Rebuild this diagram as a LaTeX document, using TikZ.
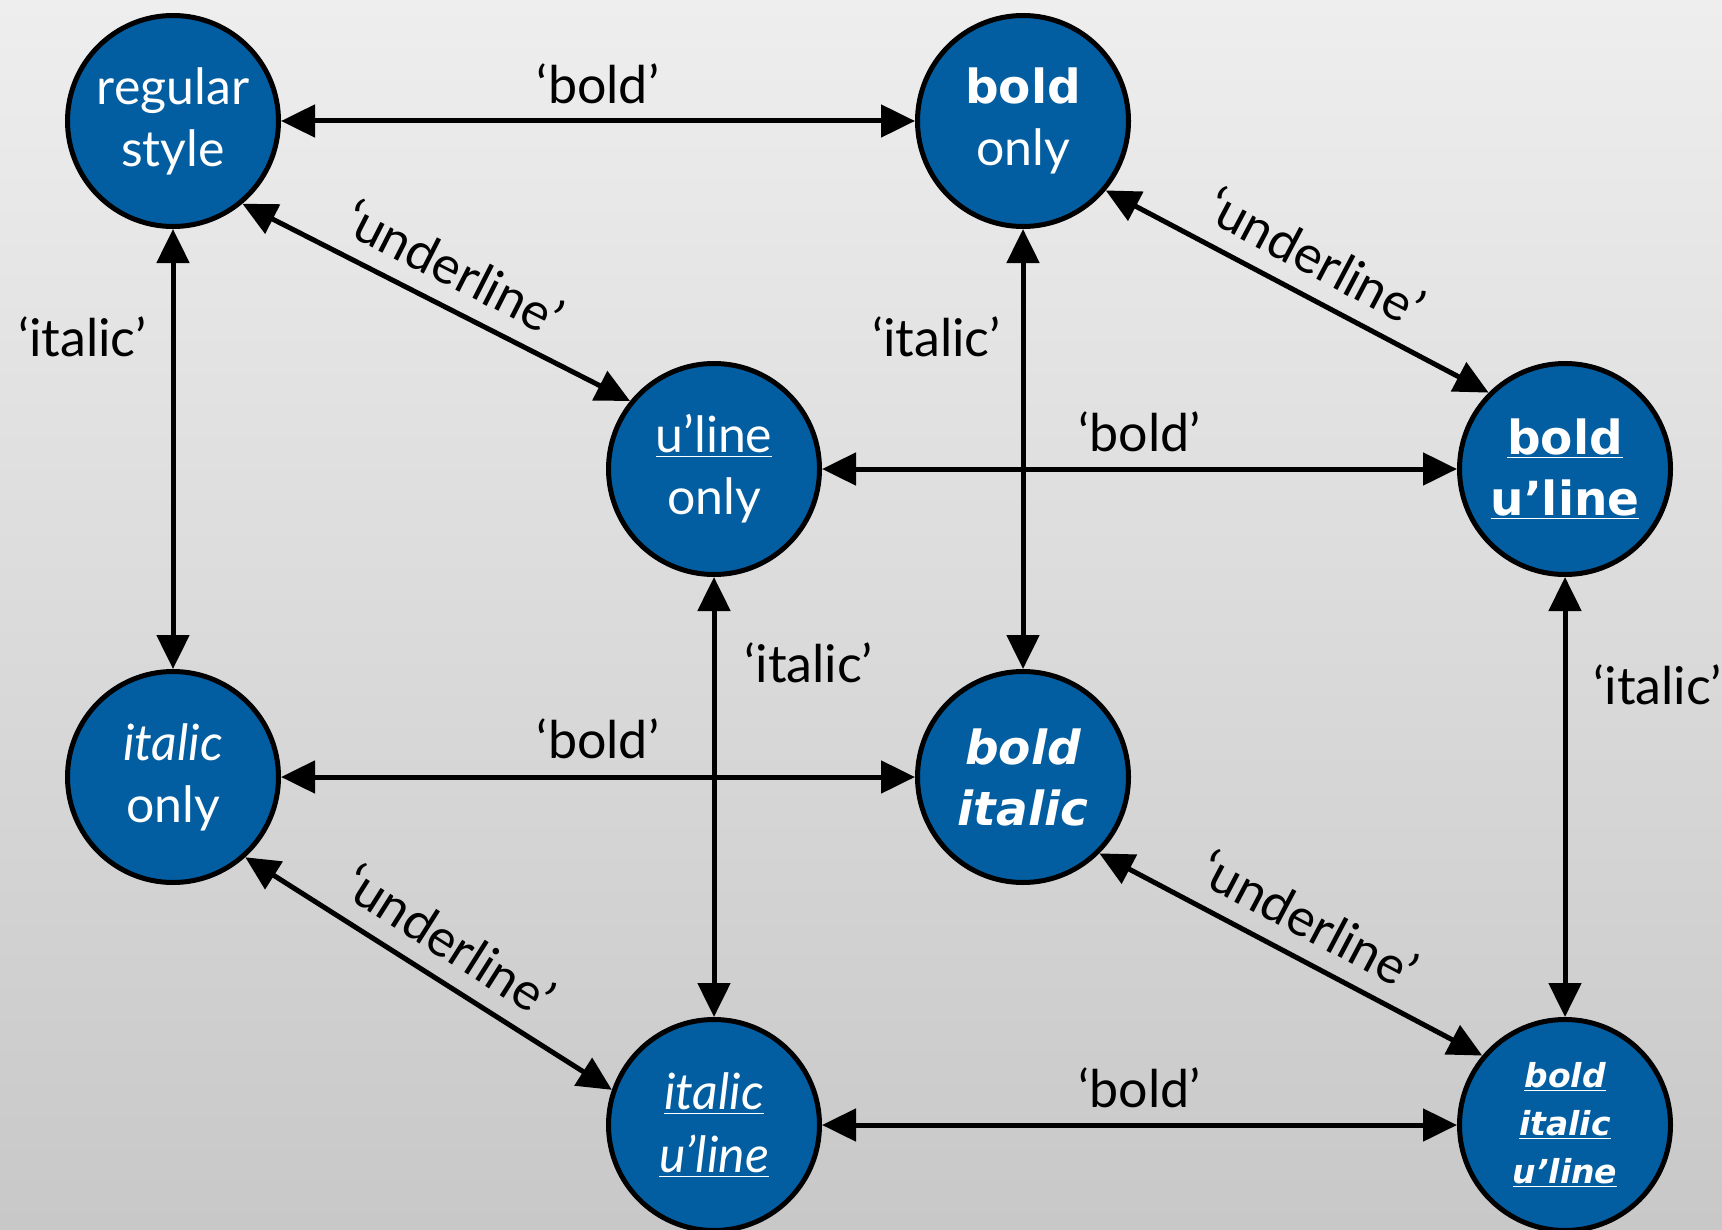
\documentclass[tikz,border=0pt]{standalone}
\usepackage{fontspec}
\setmainfont{Lato}
\newfontfamily\heavyfont{DejaVu Sans}
\usetikzlibrary{arrows.meta}
\definecolor{stateblue}{RGB}{2,94,161}
\definecolor{bgtop}{RGB}{238,238,238}
\definecolor{bgbot}{RGB}{200,200,200}
\newcommand\hvy{\heavyfont\bfseries\fontsize{23.5}{30.5}\selectfont}

\begin{document}
\begin{tikzpicture}[x=0.5pt, y=-0.5pt,
  state/.style={draw=black, circle, line width=2.5pt, fill=stateblue, text=white, minimum size=105.5pt, inner sep=0pt, align=center, font=\fontsize{25}{31}\selectfont},
  toggle/.style={line width=2.5pt, {Triangle[length=17pt,width=16pt]}-{Triangle[length=17pt,width=16pt]}},
  lbl/.style={font=\fontsize{26}{30}\selectfont, inner sep=0pt}]
\useasboundingbox (0,0) rectangle (1722,1230);
\fill[top color=bgtop, bottom color=bgbot] (0,0) rectangle (1722,1230);
\node[state] (S1N0) at (173,121) {regular\\style};
\node[state] (S1N1) at (1023,121) {{\hvy bold}\\only};
\node[state] (S1N2) at (714,469) {\underline{u’line}\\only};
\node[state, font=\hvy] (S1N3) at (1565,469) {\underline{bold}\\\underline{u’line}};
\node[state] (S1N4) at (173,777) {{\itshape italic}\\only};
\node[state, font=\hvy\itshape] (S1N5) at (1023,777) {bold\\italic};
\node[state, font=\itshape\fontsize{25}{31.5}\selectfont] (S1N6) at (714,1125) {\underline{italic}\\\underline{u’line}};
\node[state, font=\heavyfont\bfseries\itshape\fontsize{16.5}{24}\selectfont] (S1N7) at (1565,1125) {\underline{bold}\\\underline{italic}\\\underline{u’line}};
\draw[toggle] (S1N0) -- node[lbl, anchor=base, yshift=8.5pt] {‘bold’} (S1N1);
\draw[toggle] (S1N2) -- node[lbl, anchor=base, yshift=9pt] {‘bold’} (S1N3);
\draw[toggle] (S1N4) -- node[lbl, anchor=base, yshift=9.5pt] {‘bold’} (S1N5);
\draw[toggle] (S1N6) -- node[lbl, anchor=base, yshift=9pt] {‘bold’} (S1N7);
\draw[toggle] (S1N0) -- node[lbl, pos=0.29, anchor=base east, xshift=-12pt] {‘italic’} (S1N4);
\draw[toggle] (S1N1) -- node[lbl, pos=0.29, anchor=base east, xshift=-10pt] {‘italic’} (S1N5);
\draw[toggle] (S1N2) -- node[lbl, pos=0.24, anchor=base west, xshift=14pt] {‘italic’} (S1N6);
\draw[toggle] (S1N3) -- node[lbl, pos=0.29, anchor=base west, xshift=13pt] {‘italic’} (S1N7);
\draw[toggle] (S1N0.-50) -- node[lbl, sloped, anchor=base, yshift=10pt] {‘underline’} (S1N2.141);
\draw[toggle] (S1N1.-40) -- node[lbl, sloped, anchor=base, yshift=10pt] {‘underline’} (S1N3.135);
\draw[toggle] (S1N4.-48) -- node[lbl, sloped, anchor=base, yshift=10pt] {‘underline’} (S1N6.161);
\draw[toggle] (S1N5.-45) -- node[lbl, sloped, anchor=base, yshift=10pt] {‘underline’} (S1N7.140);
\end{tikzpicture}
\end{document}
